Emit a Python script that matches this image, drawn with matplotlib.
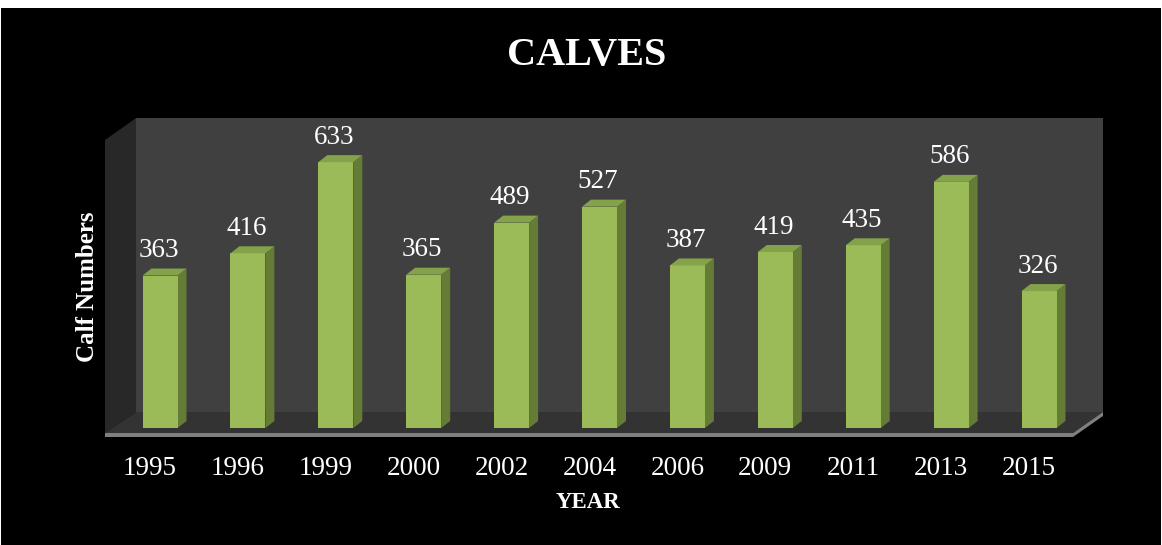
import numpy as np
import matplotlib.pyplot as plt
from matplotlib.patches import Polygon, Rectangle

years = ['1995', '1996', '1999', '2000', '2002', '2004', '2006', '2009', '2011', '2013', '2015']
calves = [363, 416, 633, 365, 489, 527, 387, 419, 435, 586, 326]

front_col = '#9bbb59'
side_col = '#647c36'
top_col = '#84a24a'
serif = 'Liberation Serif'

fig = plt.figure(figsize=(11.62, 5.45), dpi=100, facecolor='black')

# thin white frame the reference has at the top / sides
fig.patches.append(Rectangle((0, 1 - 8 / 545), 1, 8 / 545, transform=fig.transFigure,
                             facecolor='white', edgecolor='none', zorder=10))
fig.patches.append(Rectangle((0, 0), 1 / 1162, 1, transform=fig.transFigure,
                             facecolor='white', edgecolor='none', zorder=10))
fig.patches.append(Rectangle((1 - 1 / 1162, 0), 1 / 1162, 1, transform=fig.transFigure,
                             facecolor='white', edgecolor='none', zorder=10))

ax = fig.add_axes([105 / 1162, (545 - 437) / 545, 998 / 1162, 319 / 545])
ax.set_facecolor('none')
px_x = 87.9   # pixels per category
px_y = 0.42   # pixels per calf
ax.set_xlim((105 - 160) / px_x, (1103 - 160) / px_x)
ax.set_ylim((428 - 437) / px_y, (428 - 118) / px_y)
for s in ax.spines.values():
    s.set_visible(False)

# 3d box: back wall, left wall, floor (axes fraction)
wb = 0.0311   # depth in x
fb = 0.0784   # floor back edge
ff = 0.0125   # floor front edge
ax.add_patch(Polygon([(wb, fb), (1, fb), (1, 1), (wb, 1)], closed=True,
                     transform=ax.transAxes, facecolor='#404040', edgecolor='none', zorder=0))
ax.add_patch(Polygon([(0, ff), (wb, fb), (wb, 1), (0, 0.931)], closed=True,
                     transform=ax.transAxes, facecolor='#282828', edgecolor='none', zorder=0))
ax.add_patch(Polygon([(0, ff), (0.970, ff), (1, fb), (wb, fb)], closed=True,
                     transform=ax.transAxes, facecolor='#333333', edgecolor='none', zorder=0))
ax.add_patch(Polygon([(0, 0), (0.970, 0), (1, fb - ff), (1, fb), (0.970, ff), (0, ff)], closed=True,
                     transform=ax.transAxes, facecolor='#7f7f7f', edgecolor='none', zorder=0))

x = np.arange(len(years))
w = 35 / px_x
dx = 9 / px_x
dy = 7 / px_y

ax.bar(x, calves, width=w, color=front_col, zorder=3)
for xi, v in zip(x, calves):
    x0, x1 = xi - w / 2, xi + w / 2
    ax.add_patch(Polygon([(x1, 0), (x1 + dx, dy), (x1 + dx, v + dy), (x1, v)],
                         closed=True, facecolor=side_col, edgecolor='none', zorder=2))
    ax.add_patch(Polygon([(x0, v), (x1, v), (x1 + dx, v + dy), (x0 + dx, v + dy)],
                         closed=True, facecolor=top_col, edgecolor='none', zorder=3))
    ax.annotate(str(v), (xi, v), xytext=(-1, 18), textcoords='offset points',
                ha='center', va='center', color='white', fontsize=19.5, family=serif)

ax.set_yticks([])
ax.set_xticks(x - 10 / px_x, years)
ax.tick_params(axis='x', length=0, pad=14, labelcolor='white', labelsize=19.5)
for t in ax.get_xticklabels():
    t.set_family(serif)

fig.text(587 / 1162, 1 - 55 / 545, 'CALVES', ha='center', va='center', color='white',
         fontsize=29, fontweight='bold', family=serif)
fig.text(588 / 1162, 1 - 503 / 545, 'YEAR', ha='center', va='center', color='white',
         fontsize=16.5, fontweight='bold', family=serif)
fig.text(88 / 1162, 1 - 287 / 545, 'Calf Numbers', ha='center', va='center', color='white',
         fontsize=18, fontweight='bold', family=serif, rotation=90)

fig.savefig('out.png', dpi=100, facecolor='black')
